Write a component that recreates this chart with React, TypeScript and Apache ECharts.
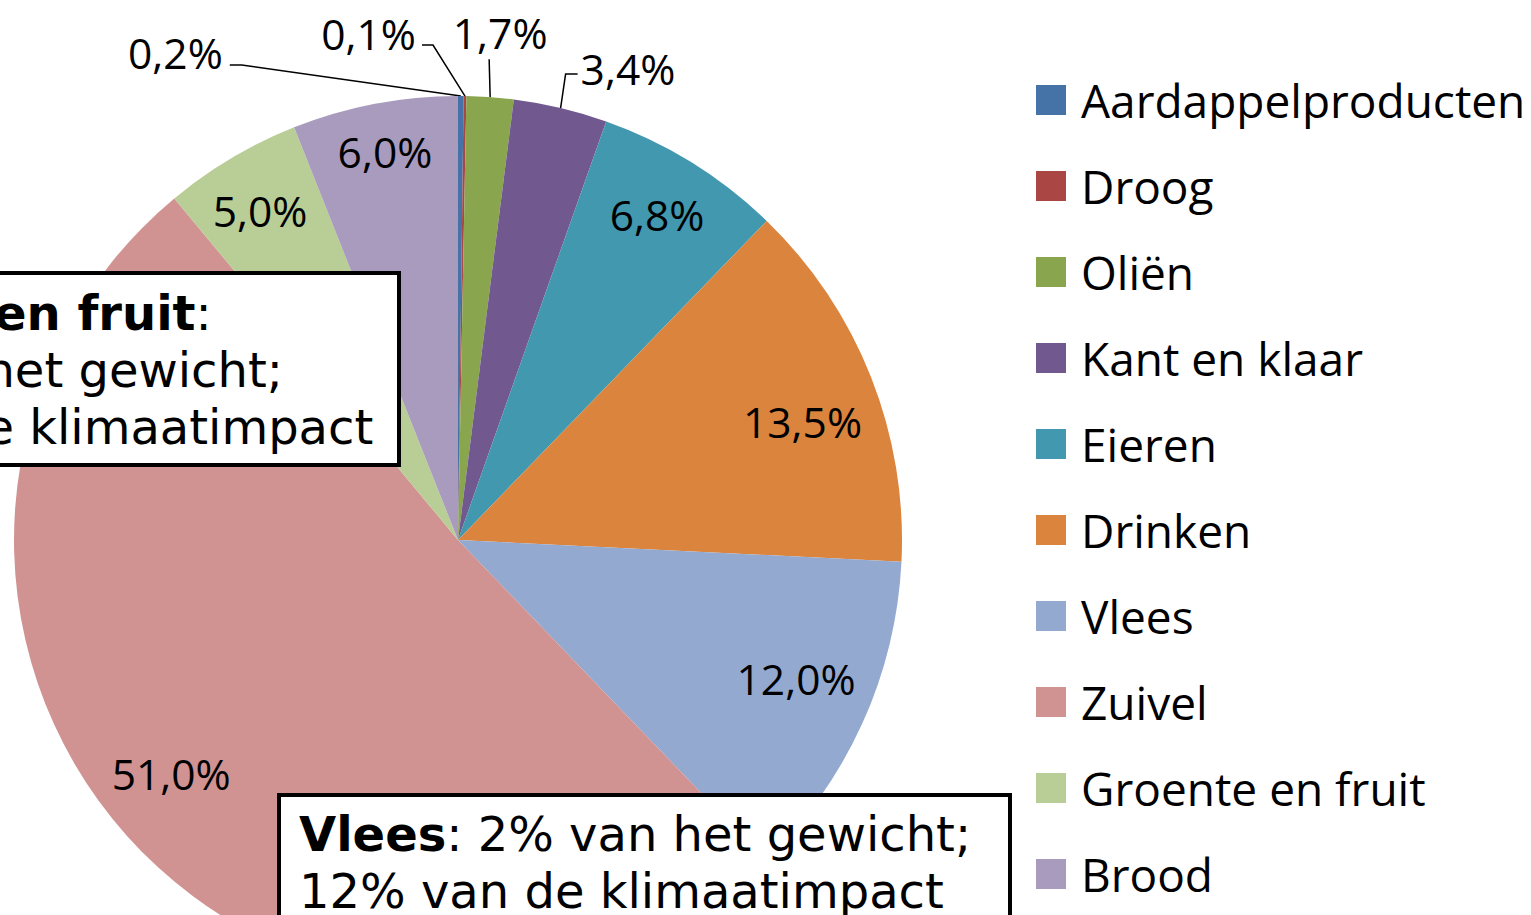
import React, { useEffect, useRef } from 'react';
import * as echarts from 'echarts';

// ---- Data ----
const categories = [
  'Aardappelproducten',
  'Droog',
  'Oliën',
  'Kant en klaar',
  'Eieren',
  'Drinken',
  'Vlees',
  'Zuivel',
  'Groente en fruit',
  'Brood',
];
const shares = [0.2, 0.1, 1.7, 3.4, 6.8, 13.5, 12.0, 51.0, 5.0, 6.0];
const colors = [
  '#4572A7', '#AA4643', '#89A54E', '#71588F', '#4198AF',
  '#DB843D', '#93A9CF', '#D19392', '#B9CD96', '#A99BBD',
];
// the first four (thin) slices are labelled outside with leader lines
const outsideLabelCount = 4;

const vleesBox = { title: 'Vlees', weight: '2% van het gewicht;', impact: '12% van de klimaatimpact' };
const groenteBox = { title: 'Groente en fruit', weight: '28% van het gewicht;', impact: '5% van de klimaatimpact' };

// ---- Layout (not data) ----
const CX = 458;
const CY = 540;
const R = 444;
// offsets of the outside labels / leader-line bends relative to the slice edge point
const outsideLayout: any[] = [
  { text: [-238, -44], align: 'right', line: [[-219, -31], [-231, -31]] },
  { text: [-49, -63], align: 'right', line: [[-32, -51], [-43, -51]] },
  { text: [10, -65], align: 'center', line: [[-1, -38], [-1, -38]] },
  { text: [20, -40], align: 'left', line: [[5, -34], [17, -34]] },
];
// fine offsets of the inside labels (best-fit placement)
const insideOffsets: number[][] = [
  [0, 0], [0, 0], [0, 0], [0, 0],
  [0, -4], [-7, 20], [-6, -18], [-5, -18], [-5, -4], [-2, -17],
];

const LABEL_FONT = '"Open Sans", "Noto Sans", sans-serif';
const BOX_FONT = '"DejaVu Sans", Verdana, sans-serif';

const fmt = (v: number) => v.toFixed(1).replace('.', ',') + '%';

export default function App() {
  const ref = useRef<HTMLDivElement>(null);

  useEffect(() => {
    if (!ref.current) return;
    const chart = echarts.init(ref.current, null, { renderer: 'svg' });
    const total = shares.reduce((a, b) => a + b, 0);
    const cum: number[] = [];
    shares.reduce((acc, v, i) => {
      cum[i] = acc;
      return acc + v;
    }, 0);

    const mainData = categories.map((name, i) => ({
      name,
      value: shares[i],
      itemStyle: { color: colors[i] },
      label: { show: i < outsideLabelCount },
      labelLine: { show: i < outsideLabelCount },
    }));
    const innerData = categories.map((name, i) => ({
      name,
      value: shares[i],
      label: { show: i >= outsideLabelCount, offset: insideOffsets[i] },
    }));

    const labelStyle = {
      fontFamily: LABEL_FONT,
      fontSize: 42.5,
      color: '#000',
      formatter: (p: any) => fmt(p.value),
    };

    const boxRich = {
      b: { fontWeight: 'bold', fontSize: 48, fontFamily: BOX_FONT, lineHeight: 57, fill: '#000' },
    };

    chart.setOption({
      animation: false,
      backgroundColor: '#fff',
      legend: {
        orient: 'vertical',
        left: 1036,
        top: 77,
        padding: 0,
        icon: 'rect',
        itemWidth: 30,
        itemHeight: 30,
        itemGap: 40,
        data: categories,
        selectedMode: false,
        textStyle: {
          fontFamily: LABEL_FONT,
          fontSize: 46,
          lineHeight: 46,
          color: '#000',
          padding: [0, 0, 0, 10],
        },
      },
      series: [
        {
          type: 'pie',
          name: 'main',
          center: [CX, CY],
          radius: R,
          startAngle: 90,
          clockwise: true,
          avoidLabelOverlap: false,
          data: mainData,
          itemStyle: { borderWidth: 0 },
          label: { ...labelStyle, position: 'outside' },
          labelLine: { show: true, lineStyle: { color: '#000', width: 1.5 }, smooth: false },
          labelLayout: (params: any) => {
            const i = params.dataIndex;
            if (i >= outsideLabelCount) return {};
            let ax: number, ay: number;
            if (params.labelLinePoints && params.labelLinePoints[0]) {
              ax = params.labelLinePoints[0][0];
              ay = params.labelLinePoints[0][1];
            } else {
              const a = ((cum[i] + shares[i] / 2) / total) * Math.PI * 2;
              ax = CX + R * Math.sin(a);
              ay = CY - R * Math.cos(a);
            }
            const L = outsideLayout[i];
            return {
              x: ax + L.text[0],
              y: ay + L.text[1],
              align: L.align,
              verticalAlign: 'middle',
              labelLinePoints: [
                [ax, ay],
                [ax + L.line[0][0], ay + L.line[0][1]],
                [ax + L.line[1][0], ay + L.line[1][1]],
              ],
            };
          },
          emphasis: { disabled: true },
        },
        {
          type: 'pie',
          name: 'inner-labels',
          center: [CX, CY],
          radius: [306, R],
          startAngle: 90,
          clockwise: true,
          silent: true,
          avoidLabelOverlap: false,
          data: innerData,
          itemStyle: { color: 'rgba(0,0,0,0)', borderWidth: 0 },
          label: { ...labelStyle, position: 'inside' },
          labelLine: { show: false },
          emphasis: { disabled: true },
          z: 3,
        },
      ],
      graphic: [
        {
          type: 'rect',
          z: 100,
          shape: { x: -265, y: 273, width: 664, height: 192 },
          style: { fill: '#fff', stroke: '#000', lineWidth: 4 },
        },
        {
          type: 'text',
          z: 101,
          x: -241,
          y: 284,
          style: {
            text: `{b|${groenteBox.title}}:\n${groenteBox.weight}\n${groenteBox.impact}`,
            fontSize: 48,
            fontFamily: BOX_FONT,
            lineHeight: 57,
            fill: '#000',
            rich: boxRich,
          },
        },
        {
          type: 'rect',
          z: 100,
          shape: { x: 279, y: 795, width: 731, height: 200 },
          style: { fill: '#fff', stroke: '#000', lineWidth: 4 },
        },
        {
          type: 'text',
          z: 101,
          x: 299,
          y: 805,
          style: {
            text: `{b|${vleesBox.title}}: ${vleesBox.weight}\n${vleesBox.impact}`,
            fontSize: 48,
            fontFamily: BOX_FONT,
            lineHeight: 57,
            fill: '#000',
            rich: boxRich,
          },
        },
      ],
    });

    return () => chart.dispose();
  }, []);

  return (
    <div
      ref={ref}
      style={{ position: 'fixed', left: 0, top: 0, width: 1531, height: 915, background: '#fff' }}
    />
  );
}
